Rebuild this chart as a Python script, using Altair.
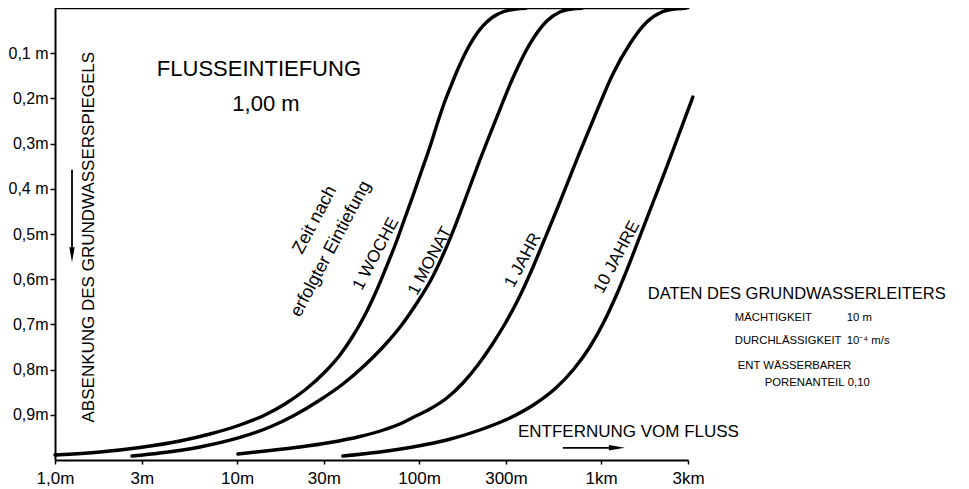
import altair as alt
import pandas as pd

# ---- curves: distance from river (m) and drawdown (m) ----
woche_x = [1.00, 1.767, 2.930, 4.858, 7.10, 10.37, 14.23, 18.32, 23.60, 30.39, 36.74, 43.30, 50.40,
           57.91, 65.72, 74.58, 83.56, 93.66, 103.6, 114.6, 125.2, 136.8, 149.5, 163.4, 180.7,
           199.9, 224.1, 254.3, 292.2, 340.1, 385.9]
woche_s = [0.9889, 0.9823, 0.9723, 0.9580, 0.9425, 0.9226, 0.9004, 0.8761, 0.8451, 0.8053, 0.7677,
           0.7257, 0.6792, 0.6283, 0.5752, 0.5199, 0.4646, 0.4093, 0.3584, 0.3075, 0.2588, 0.2124,
           0.1726, 0.1350, 0.0973, 0.0664, 0.0398, 0.0199, 0.0077, 0.0022, 0.0007]

monat_x = [2.647, 3.772, 6.257, 10.37, 15.16, 20.80, 28.53, 38.15, 49.77, 64.08, 79.45, 97.25,
           116.1, 136.8, 159.2, 185.4, 215.7, 267.4, 327.4, 406.0, 503.2, 593.2, 690.5, 783.4]
monat_s = [0.9912, 0.9845, 0.9712, 0.9502, 0.9270, 0.9004, 0.8673, 0.8319, 0.7920, 0.7478, 0.7035,
           0.6527, 0.6018, 0.5420, 0.4779, 0.4071, 0.3363, 0.2412, 0.1549, 0.0796, 0.0288, 0.0088,
           0.0022, 0.0007]

jahr_x = [10.11, 15.16, 22.15, 32.37, 47.30, 64.90, 78.45, 92.45, 114.6, 142.1, 174.0, 210.3, 251.0,
          295.9, 348.8, 411.1, 484.5, 563.9, 656.5, 763.8, 947.1, 1160, 1437, 1782, 2154, 2539, 2918]
jahr_s = [0.9867, 0.9790, 0.9712, 0.9613, 0.9480, 0.9325, 0.9204, 0.9060, 0.8872, 0.8628, 0.8296,
          0.7898, 0.7456, 0.6991, 0.6460, 0.5841, 0.5155, 0.4513, 0.3850, 0.3186, 0.2279, 0.1460,
          0.0796, 0.0310, 0.0088, 0.0022, 0.0007]

jahre10_x = [38.15, 60.91, 92.45, 142.1, 215.7, 315.2, 432.4, 563.9, 708.2, 866.8, 1035, 1220, 1419,
             1652, 1922, 2238, 2604, 3189]
jahre10_s = [0.9912, 0.9823, 0.9712, 0.9558, 0.9336, 0.9071, 0.8761, 0.8407, 0.7987, 0.7500, 0.6947,
             0.6327, 0.5686, 0.5000, 0.4314, 0.3628, 0.2920, 0.1969]

series_names = ["1 WOCHE", "1 MONAT", "1 JAHR", "10 JAHRE"]
series_x = [woche_x, monat_x, jahr_x, jahre10_x]
series_s = [woche_s, monat_s, jahr_s, jahre10_s]

# ---- axes ----
x_tick_values = [1, 3, 10, 30, 100, 300, 1000, 3000]
x_tick_labels = ["1,0m", "3m", "10m", "30m", "100m", "300m", "1km", "3km"]
y_tick_values = [0.1, 0.2, 0.3, 0.4, 0.5, 0.6, 0.7, 0.8, 0.9]
y_tick_labels = ["0,1 m", "0,2m", "0,3m", "0,4 m", "0,5m", "0,6m", "0,7m", "0,8m", "0,9m"]

# ---- annotations (data coordinates) ----
curve_label_x = [57.9, 114.7, 371.5, 1220]
curve_label_s = [0.544, 0.560, 0.558, 0.551]

zeit_text = ["Zeit      nach", "erfolgter  Eintiefung"]
zeit_x = [26.8, 32.8]
zeit_s = [0.469, 0.533]

title_text = ["FLUSSEINTIEFUNG", "1,00 m"]
title_x = [13.19, 14.41]
title_s = [0.135, 0.212]

ytitle_text = ["ABSENKUNG  DES  GRUNDWASSERSPIEGELS"]
ytitle_x = [1.537]
ytitle_s = [0.507]

xtitle_text = ["ENTFERNUNG  VOM FLUSS"]
xtitle_x = [349]
xtitle_s = [0.938]

daten_head = ["DATEN DES GRUNDWASSERLEITERS"]
daten_head_x = [1805]
daten_head_s = [0.633]

daten_text = ["MÄCHTIGKEIT", "10 m", "DURCHLÄSSIGKEIT", "10⁻⁴ m/s", "ENT WÄSSERBARER", "PORENANTEIL", "0,10"]
daten_x = [5423, 22350, 5423, 22350, 5632, 7925, 22630]
daten_s = [0.686, 0.686, 0.737, 0.737, 0.792, 0.830, 0.830]

FONT = "Liberation Sans"

rows = []
for name, xs, ss in zip(series_names, series_x, series_s):
    for xv, sv in zip(xs, ss):
        rows.append({"series": name, "x": xv, "s": sv})
curves = pd.DataFrame(rows)

x_scale = alt.Scale(type="log", domain=[1, 3000], nice=False)
y_scale = alt.Scale(domain=[0, 1], reverse=True, nice=False, zero=False)

x_label_expr = "{}[indexof({}, datum.value)]".format(
    "[" + ",".join("'%s'" % t for t in x_tick_labels) + "]",
    "[" + ",".join(str(v) for v in x_tick_values) + "]",
)
y_label_expr = "{}[round(datum.value*10)-1]".format(
    "[" + ",".join("'%s'" % t for t in y_tick_labels) + "]"
)

x_axis = alt.Axis(values=x_tick_values, labelExpr=x_label_expr, title=None, grid=False,
                  domainColor="black", domainWidth=2, tickColor="black", tickWidth=1.5,
                  tickSize=4, labelPadding=6, labelFont=FONT, labelFontSize=17,
                  labelColor="black", labelFlush=False, labelOverlap=False)
y_axis = alt.Axis(values=y_tick_values, labelExpr=y_label_expr, title=None, grid=False,
                  domainColor="black", domainWidth=2, tickColor="black", tickWidth=1.5,
                  tickSize=5, labelPadding=2, labelFont=FONT, labelFontSize=16,
                  labelColor="black", labelOverlap=False)

X = alt.X("x:Q", scale=x_scale, axis=x_axis)
Y = alt.Y("s:Q", scale=y_scale, axis=y_axis)

lines = alt.Chart(curves).mark_line(color="black", strokeWidth=3.4, strokeCap="round",
                                    interpolate="monotone").encode(
    x=X, y=Y, detail="series:N", order="x:Q")

top_line = alt.Chart(pd.DataFrame({"x": [1], "x2": [3050], "s": [0]})).mark_rule(
    color="black", strokeWidth=2.5).encode(x=alt.X("x:Q", scale=x_scale), x2="x2:Q",
                                           y=alt.Y("s:Q", scale=y_scale))


def text_layer(texts, xs, ss, size, angle=0, align="center"):
    df = pd.DataFrame({"t": texts, "x": xs, "s": ss})
    return alt.Chart(df).mark_text(font=FONT, fontSize=size, angle=angle, align=align,
                                   baseline="middle", color="black").encode(
        x=alt.X("x:Q", scale=x_scale), y=alt.Y("s:Q", scale=y_scale), text="t:N")


curve_labels = text_layer(series_names, curve_label_x, curve_label_s, 17, angle=298)
zeit_labels = text_layer(zeit_text, zeit_x, zeit_s, 18, angle=298)
title_labels = text_layer(title_text, title_x, title_s, 22)
ytitle = text_layer(ytitle_text, ytitle_x, ytitle_s, 17, angle=270)
xtitle = text_layer(xtitle_text, xtitle_x, xtitle_s, 17, align="left")
dhead = text_layer(daten_head, daten_head_x, daten_head_s, 16.5, align="left")
dtext = text_layer(daten_text, daten_x, daten_s, 11.3, align="left")

# arrows
y_arrow = alt.Chart(pd.DataFrame({"x": [1.24], "s": [0.358], "s2": [0.53]})).mark_rule(
    color="black", strokeWidth=1.8).encode(x=alt.X("x:Q", scale=x_scale),
                                           y=alt.Y("s:Q", scale=y_scale), y2="s2:Q")
y_head = alt.Chart(pd.DataFrame({"x": [1.24], "s": [0.546]})).mark_point(
    shape="M -0.35 -1 L 0.35 -1 L 0 1 Z", filled=True, size=225, color="black", opacity=1,
    strokeWidth=0).encode(x=alt.X("x:Q", scale=x_scale), y=alt.Y("s:Q", scale=y_scale))
x_arrow = alt.Chart(pd.DataFrame({"x": [616], "x2": [1145], "s": [0.973]})).mark_rule(
    color="black", strokeWidth=1.8).encode(x=alt.X("x:Q", scale=x_scale), x2="x2:Q",
                                           y=alt.Y("s:Q", scale=y_scale))
x_head = alt.Chart(pd.DataFrame({"x": [1220], "s": [0.973]})).mark_point(
    shape="M -1 -0.35 L -1 0.35 L 1 0 Z", filled=True, size=256, color="black", opacity=1,
    strokeWidth=0).encode(x=alt.X("x:Q", scale=x_scale), y=alt.Y("s:Q", scale=y_scale))

chart = alt.layer(
    lines, top_line, curve_labels, zeit_labels, title_labels, ytitle, xtitle, dhead, dtext,
    y_arrow, y_head, x_arrow, x_head
).properties(
    width=633, height=452,
    autosize=alt.AutoSizeParams(type="none"),
    padding={"left": 47, "top": 0, "right": 273, "bottom": 30},
    background="white",
).configure_view(stroke=None)

chart.save("out.html", embed_options={"renderer": "svg", "actions": False})
